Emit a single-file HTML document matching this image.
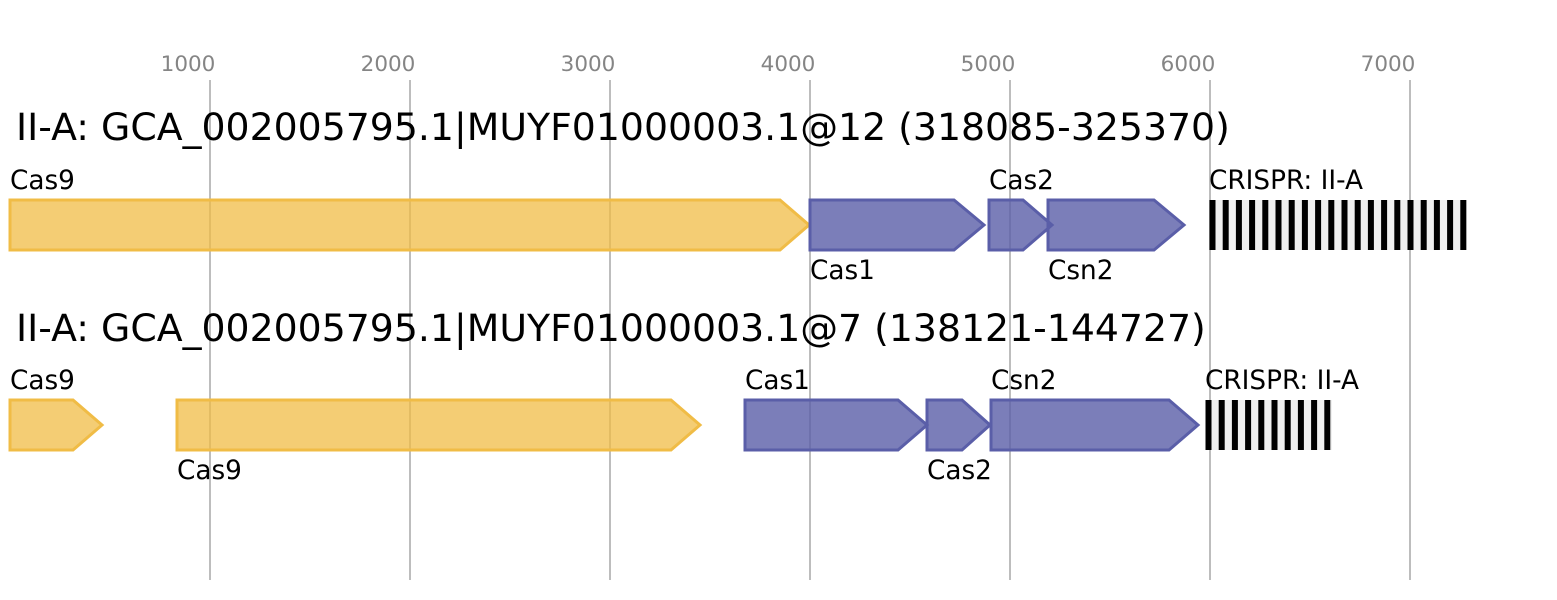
<!DOCTYPE html>
<html><head><meta charset="utf-8"><style>
html,body{margin:0;padding:0;background:#fff;}
svg{display:block;}
text{font-family:"DejaVu Sans","Liberation Sans",sans-serif;}
</style></head><body>
<svg width="1557" height="600" viewBox="0 0 1557 600" xmlns="http://www.w3.org/2000/svg">
<rect width="1557" height="600" fill="#fff"/>
<!-- grid -->
<g stroke="#bdbdbd" stroke-width="2">
<line x1="210" y1="80" x2="210" y2="580"/>
<line x1="410" y1="80" x2="410" y2="580"/>
<line x1="610" y1="80" x2="610" y2="580"/>
<line x1="810" y1="80" x2="810" y2="580"/>
<line x1="1010" y1="80" x2="1010" y2="580"/>
<line x1="1210" y1="80" x2="1210" y2="580"/>
<line x1="1410" y1="80" x2="1410" y2="580"/>
</g>
<g fill="#858585" font-size="21.5" text-anchor="middle">
<text x="188" y="71">1000</text>
<text x="388" y="71">2000</text>
<text x="588" y="71">3000</text>
<text x="788" y="71">4000</text>
<text x="988" y="71">5000</text>
<text x="1188" y="71">6000</text>
<text x="1388" y="71">7000</text>
</g>
<!-- titles -->
<text x="16" y="140" font-size="37.8" fill="#000">II-A: GCA_002005795.1|MUYF01000003.1@12 (318085-325370)</text>
<text x="16" y="341" font-size="37.8" fill="#000">II-A: GCA_002005795.1|MUYF01000003.1@7 (138121-144727)</text>

<!-- row 1 genes -->
<g stroke-width="3" stroke-linejoin="miter">
<polygon points="10,200 780,200 809,225 780,250 10,250" fill="#f0bc46" fill-opacity="0.75" stroke="#f0bc46"/>
<polygon points="810,200 954,200 984,225 954,250 810,250" fill="#5a5ea8" fill-opacity="0.8" stroke="#5a5ea8"/>
<polygon points="989,200 1023,200 1052,225 1023,250 989,250" fill="#5a5ea8" fill-opacity="0.8" stroke="#5a5ea8"/>
<polygon points="1048,200 1154,200 1184,225 1154,250 1048,250" fill="#5a5ea8" fill-opacity="0.8" stroke="#5a5ea8"/>
</g>
<g font-size="26.3" fill="#000">
<text x="10" y="189">Cas9</text>
<text x="810" y="279">Cas1</text>
<text x="989" y="189">Cas2</text>
<text x="1048" y="279">Csn2</text>
<text x="1209" y="189">CRISPR: II-A</text>
</g>
<!-- crispr row1 -->
<rect x="1210" y="200" width="257" height="50" fill="#f0f0f0"/>
<g fill="#000">
<rect x="1209.5" y="200" width="6" height="50"/>
<rect x="1222.7" y="200" width="6" height="50"/>
<rect x="1235.9" y="200" width="6" height="50"/>
<rect x="1249.1" y="200" width="6" height="50"/>
<rect x="1262.3" y="200" width="6" height="50"/>
<rect x="1275.5" y="200" width="6" height="50"/>
<rect x="1288.7" y="200" width="6" height="50"/>
<rect x="1301.9" y="200" width="6" height="50"/>
<rect x="1315.1" y="200" width="6" height="50"/>
<rect x="1328.3" y="200" width="6" height="50"/>
<rect x="1341.5" y="200" width="6" height="50"/>
<rect x="1354.7" y="200" width="6" height="50"/>
<rect x="1367.9" y="200" width="6" height="50"/>
<rect x="1381.1" y="200" width="6" height="50"/>
<rect x="1394.3" y="200" width="6" height="50"/>
<rect x="1407.5" y="200" width="6" height="50"/>
<rect x="1420.7" y="200" width="6" height="50"/>
<rect x="1433.9" y="200" width="6" height="50"/>
<rect x="1447.1" y="200" width="6" height="50"/>
<rect x="1460.3" y="200" width="6" height="50"/>
</g>

<!-- row 2 genes -->
<g stroke-width="3" stroke-linejoin="miter">
<polygon points="10,400 73,400 102,425 73,450 10,450" fill="#f0bc46" fill-opacity="0.75" stroke="#f0bc46"/>
<polygon points="177,400 671,400 700,425 671,450 177,450" fill="#f0bc46" fill-opacity="0.75" stroke="#f0bc46"/>
<polygon points="745,400 898,400 927,425 898,450 745,450" fill="#5a5ea8" fill-opacity="0.8" stroke="#5a5ea8"/>
<polygon points="927,400 962,400 990,425 962,450 927,450" fill="#5a5ea8" fill-opacity="0.8" stroke="#5a5ea8"/>
<polygon points="991,400 1169,400 1198,425 1169,450 991,450" fill="#5a5ea8" fill-opacity="0.8" stroke="#5a5ea8"/>
</g>
<g font-size="26.3" fill="#000">
<text x="10" y="389">Cas9</text>
<text x="177" y="479">Cas9</text>
<text x="745" y="389">Cas1</text>
<text x="927" y="479">Cas2</text>
<text x="991" y="389">Csn2</text>
<text x="1205" y="389">CRISPR: II-A</text>
</g>
<!-- crispr row2 -->
<rect x="1206" y="400" width="126" height="50" fill="#f0f0f0"/>
<g fill="#000">
<rect x="1205.5" y="400" width="6" height="50"/>
<rect x="1218.7" y="400" width="6" height="50"/>
<rect x="1231.9" y="400" width="6" height="50"/>
<rect x="1245.1" y="400" width="6" height="50"/>
<rect x="1258.3" y="400" width="6" height="50"/>
<rect x="1271.5" y="400" width="6" height="50"/>
<rect x="1284.7" y="400" width="6" height="50"/>
<rect x="1297.9" y="400" width="6" height="50"/>
<rect x="1311.1" y="400" width="6" height="50"/>
<rect x="1324.3" y="400" width="6" height="50"/>
</g>
</svg>
</body></html>
